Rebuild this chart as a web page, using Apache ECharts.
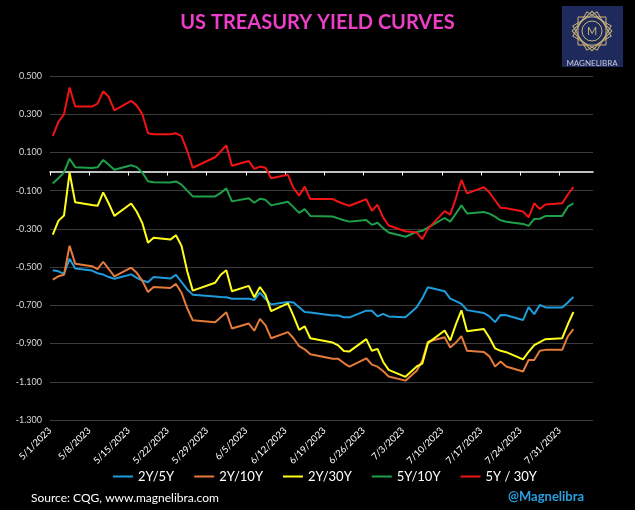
<!DOCTYPE html>
<html><head><meta charset="utf-8">
<script src="https://cdn.jsdelivr.net/npm/echarts@6/dist/echarts.min.js"></script>
<style>html,body{margin:0;padding:0;background:#000;}#c{width:635px;height:510px;}</style>
</head><body><div id="c"></div>
<script>
const dates = [
 '2023-05-01','2023-05-02','2023-05-03','2023-05-04','2023-05-05',
 '2023-05-08','2023-05-09','2023-05-10','2023-05-11','2023-05-12',
 '2023-05-15','2023-05-16','2023-05-17','2023-05-18','2023-05-19',
 '2023-05-22','2023-05-23','2023-05-24','2023-05-25','2023-05-26',
 '2023-05-30','2023-05-31','2023-06-01','2023-06-02',
 '2023-06-05','2023-06-06','2023-06-07','2023-06-08','2023-06-09',
 '2023-06-12','2023-06-13','2023-06-14','2023-06-15','2023-06-16',
 '2023-06-20','2023-06-21','2023-06-22','2023-06-23',
 '2023-06-26','2023-06-27','2023-06-28','2023-06-29','2023-06-30',
 '2023-07-03','2023-07-05','2023-07-06','2023-07-07',
 '2023-07-10','2023-07-11','2023-07-12','2023-07-13','2023-07-14',
 '2023-07-17','2023-07-18','2023-07-19','2023-07-20','2023-07-21',
 '2023-07-24','2023-07-25','2023-07-26','2023-07-27','2023-07-28',
 '2023-07-31','2023-08-01','2023-08-02'
];
const s2y5y = [
 -0.516,-0.522,-0.535,-0.456,-0.507,
 -0.518,-0.532,-0.539,-0.552,-0.561,
 -0.538,-0.556,-0.570,-0.579,-0.552,
 -0.560,-0.540,-0.578,-0.617,-0.644,
 -0.654,-0.657,-0.658,-0.666,
 -0.665,-0.672,-0.633,-0.667,-0.695,
 -0.682,-0.685,-0.710,-0.735,-0.737,
 -0.753,-0.753,-0.762,-0.763,
 -0.728,-0.728,-0.758,-0.745,-0.758,
 -0.762,-0.710,-0.663,-0.605,
 -0.626,-0.665,-0.678,-0.692,-0.725,
 -0.740,-0.758,-0.788,-0.750,-0.752,
 -0.777,-0.709,-0.746,-0.698,-0.711,
 -0.711,-0.685,-0.656
];
const s2y10y = [
 -0.565,-0.548,-0.540,-0.388,-0.482,
 -0.495,-0.510,-0.472,-0.510,-0.549,
 -0.503,-0.530,-0.572,-0.630,-0.604,
 -0.609,-0.588,-0.634,-0.715,-0.778,
 -0.788,-0.762,-0.736,-0.821,
 -0.795,-0.833,-0.771,-0.805,-0.872,
 -0.840,-0.872,-0.914,-0.930,-0.956,
 -0.980,-0.980,-1.002,-1.021,
 -0.977,-1.010,-1.021,-1.044,-1.072,
 -1.094,-1.042,-0.990,-0.891,
 -0.867,-0.921,-0.895,-0.861,-0.938,
 -0.944,-0.967,-1.020,-0.994,-1.020,
 -1.046,-0.986,-0.986,-0.938,-0.933,
 -0.933,-0.863,-0.824
];
const s2y30y = [
 -0.330,-0.258,-0.230,-0.006,-0.161,
 -0.175,-0.179,-0.109,-0.167,-0.232,
 -0.167,-0.210,-0.270,-0.372,-0.346,
 -0.356,-0.333,-0.389,-0.520,-0.623,
 -0.582,-0.540,-0.516,-0.626,
 -0.598,-0.658,-0.604,-0.645,-0.730,
 -0.690,-0.755,-0.828,-0.810,-0.872,
 -0.895,-0.910,-0.939,-0.941,
 -0.877,-0.938,-0.928,-0.995,-1.038,
 -1.074,-1.020,-1.005,-0.898,
 -0.832,-0.884,-0.800,-0.726,-0.836,
 -0.824,-0.870,-0.925,-0.938,-0.945,
 -0.983,-0.943,-0.908,-0.892,-0.877,
 -0.872,-0.800,-0.735
];
const s5y10y = [
 -0.062,-0.035,-0.004,0.067,0.023,
 0.019,0.022,0.061,0.035,0.009,
 0.033,0.023,-0.006,-0.051,-0.056,
 -0.057,-0.052,-0.068,-0.100,-0.130,
 -0.130,-0.112,-0.088,-0.156,
 -0.140,-0.163,-0.142,-0.148,-0.177,
 -0.158,-0.186,-0.216,-0.197,-0.232,
 -0.235,-0.245,-0.255,-0.262,
 -0.253,-0.279,-0.268,-0.296,-0.319,
 -0.341,-0.316,-0.310,-0.293,
 -0.243,-0.262,-0.220,-0.177,-0.219,
 -0.212,-0.220,-0.236,-0.255,-0.263,
 -0.274,-0.284,-0.248,-0.247,-0.233,
 -0.232,-0.184,-0.167
];
const s5y30y = [
 0.185,0.260,0.300,0.440,0.340,
 0.340,0.355,0.420,0.390,0.320,
 0.370,0.345,0.300,0.200,0.195,
 0.195,0.200,0.185,0.110,0.020,
 0.075,0.105,0.137,0.030,
 0.055,0.014,0.026,0.020,-0.035,
 -0.017,-0.085,-0.126,-0.079,-0.144,
 -0.144,-0.158,-0.170,-0.179,
 -0.145,-0.205,-0.174,-0.240,-0.282,
 -0.312,-0.319,-0.354,-0.300,
 -0.207,-0.225,-0.140,-0.044,-0.114,
 -0.082,-0.110,-0.150,-0.190,-0.192,
 -0.209,-0.240,-0.166,-0.196,-0.172,
 -0.166,-0.120,-0.082
];
const seriesNames = ['2Y/5Y','2Y/10Y','2Y/30Y','5Y/10Y','5Y / 30Y'];
const seriesColors = ['#1E9CDB','#E57B3A','#FFFF1A','#1EA04A','#F01414'];
const tickDates = ['2023-05-01','2023-05-08','2023-05-15','2023-05-22','2023-05-29','2023-06-05','2023-06-12',
 '2023-06-19','2023-06-26','2023-07-03','2023-07-10','2023-07-17','2023-07-24','2023-07-31'];
const axisStart = '2023-05-01';
const axisEnd = '2023-08-06';

const DAY = 86400000;
function dayOf(s){const p=s.split('-').map(Number);return Math.round((Date.UTC(p[0],p[1]-1,p[2])-Date.UTC(2023,4,1))/DAY);}
function labelOf(v){const t=new Date(Date.UTC(2023,4,1)+Math.round(v)*DAY);return (t.getUTCMonth()+1)+'/'+t.getUTCDate()+'/'+t.getUTCFullYear();}
const xMin = dayOf(axisStart), xMax = dayOf(axisEnd);
const tickVals = tickDates.map(dayOf);
const allSeries = [s2y5y, s2y10y, s2y30y, s5y10y, s5y30y];
const FONT = 'Lato, "Open Sans", sans-serif';

const chart = echarts.init(document.getElementById('c'), null, {renderer:'canvas'});
chart.setOption({
  backgroundColor:'#000',
  animation:false,
  textStyle:{fontFamily:FONT},
  title:{text:'US TREASURY YIELD CURVES', left:'center', top:8,
    textStyle:{color:'#EC3EC6', fontSize:20, fontWeight:'bold', fontFamily:FONT}},
  legend:{data:seriesNames, left:108, top:465, icon:'rect', itemWidth:20, itemHeight:2, itemGap:20,
    textStyle:{color:'#fff', fontSize:13, fontFamily:FONT}},
  grid:{left:50, right:42, top:76, bottom:90, containLabel:false},
  xAxis:[{
    type:'value', min:xMin, max:xMax, position:'bottom',
    axisLine:{show:false, onZero:false}, axisTick:{show:false}, splitLine:{show:false},
    axisLabel:{customValues:tickVals, rotate:45, margin:9, color:'#fff', fontSize:9.5, fontFamily:FONT,
      formatter:v=>labelOf(v)}
  },{
    type:'value', min:xMin, max:xMax, position:'top',
    axisLine:{show:true, onZero:true, lineStyle:{color:'#fff', width:1.5}},
    axisTick:{show:true, inside:true, length:4, customValues:tickVals, lineStyle:{color:'#fff', width:1}},
    axisLabel:{show:false}, splitLine:{show:false}
  }],
  yAxis:{
    type:'value', min:-1.3, max:0.5, interval:0.2,
    axisLine:{show:false}, axisTick:{show:false},
    splitLine:{show:true, lineStyle:{color:'#3c3c3c', width:1}},
    axisLabel:{color:'#d9d9d9', fontSize:9, margin:8, fontFamily:FONT, formatter:v=>v.toFixed(3)}
  },
  series: allSeries.map((arr,k)=>({
    name:seriesNames[k], type:'line', xAxisIndex:0, showSymbol:false, symbol:'none',
    color:seriesColors[k], lineStyle:{width:2, color:seriesColors[k]},
    data: dates.map((d,i)=>[dayOf(d)+0.5, arr[i]])
  })),
  graphic:[
    {type:'text', left:31, top:492, style:{text:'Source: CQG, www.magnelibra.com', fill:'#fff', fontSize:12, fontFamily:FONT}},
    {type:'text', left:508, top:490, style:{text:'@Magnelibra', fill:'#2A9FE0', fontSize:13, fontWeight:'bold', fontFamily:FONT}},
    {type:'group', left:562, top:6, children:[
      {type:'rect', shape:{x:0,y:0,width:61,height:61}, style:{fill:'#1E2A5C'}},
      {type:'rect', shape:{x:16,y:11,width:28,height:28}, style:{fill:'none', stroke:'#C9B27A', lineWidth:1}},
      {type:'rect', shape:{x:-14,y:-14,width:28,height:28}, x:30, y:25, rotation:Math.PI/4, style:{fill:'none', stroke:'#C9B27A', lineWidth:1}},
      {type:'rect', shape:{x:-14,y:-14,width:28,height:28}, x:30, y:25, rotation:Math.PI/6, style:{fill:'none', stroke:'#C9B27A', lineWidth:1}},
      {type:'rect', shape:{x:-14,y:-14,width:28,height:28}, x:30, y:25, rotation:Math.PI/3, style:{fill:'none', stroke:'#C9B27A', lineWidth:1}},
      {type:'circle', shape:{cx:30, cy:25, r:10}, style:{fill:'#1E2A5C', stroke:'#C9B27A', lineWidth:1}},
      {type:'text', x:30, y:25, style:{text:'M', fill:'#C9B27A', fontSize:11, align:'center', verticalAlign:'middle', fontFamily:FONT}},
      {type:'text', x:30, y:57, style:{text:'MAGNELIBRA', fill:'#C8C8D8', fontSize:8, align:'center', verticalAlign:'middle', fontFamily:FONT}}
    ]}
  ]
});
</script>
</body></html>
